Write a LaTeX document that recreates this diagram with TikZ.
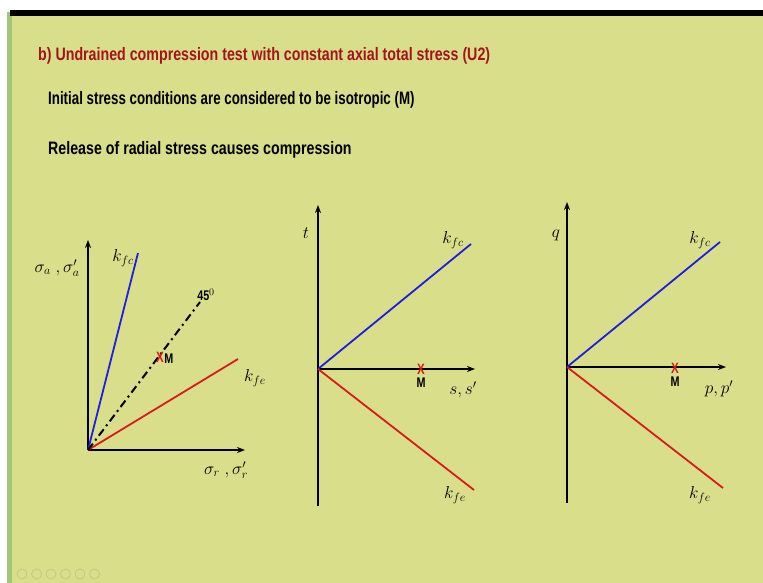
\documentclass[tikz,border=0pt]{standalone}
\usepackage{fontspec}
\setmainfont{Liberation Sans}[FakeStretch=0.77]
\usetikzlibrary{positioning,arrows.meta,calc}
\usepackage{amsmath,amssymb}
\usepackage{xcolor}
\definecolor{slidebg}{RGB}{217,222,138}
\definecolor{slideedge}{RGB}{160,200,120}
\definecolor{titlered}{RGB}{165,20,30}
\definecolor{kfcblue}{RGB}{30,30,225}
\definecolor{kfered}{RGB}{220,25,25}
\definecolor{navgrey}{RGB}{190,195,130}

\begin{document}
\begin{tikzpicture}[
    x=1pt, y=-1pt,
    axis/.style={line width=2pt, -{Stealth[length=8pt,width=6pt]}},
    fcline/.style={kfcblue, line width=1.8pt},
    feline/.style={kfered, line width=1.8pt},
    lbl/.style={inner sep=1pt, font=\fontsize{17}{19}\selectfont},
    slidetext/.style={anchor=base west, inner sep=0pt, font=\bfseries\fontsize{18}{20}\selectfont},
    cross/.style={text=kfered, font=\bfseries\fontsize{15}{16}\selectfont, inner sep=0pt},
    mlbl/.style={font=\bfseries\fontsize{14}{16}\selectfont, inner sep=0pt},
    >=Stealth
  ]
  % slide frame
  \useasboundingbox (0,0) rectangle (763,583);
  \fill[white] (0,0) rectangle (763,583);
  \fill[slidebg] (12,16) rectangle (763,583);
  \fill[slideedge] (7,12) rectangle (12,583);
  \fill[black] (10,10) rectangle (763,16);

  % texts
  \node[slidetext, text=titlered] (title) at (38,61) {\addfontfeature{FakeStretch=0.79}b) Undrained compression test with constant axial total stress (U2)};
  \node[slidetext] (line1) at (48,105) {\addfontfeature{FakeStretch=0.74}Initial stress conditions are considered to be isotropic (M)};
  \node[slidetext] (line2) at (48,155) {\addfontfeature{FakeStretch=0.79}Release of radial stress causes compression};

  % principal stress plane
  \coordinate (o1) at (88,450);
  \coordinate (y1) at (88,240);
  \coordinate (x1) at (245,450);
  \coordinate (c1) at (138,253);
  \coordinate (e1) at (238,359);
  \coordinate (d1) at (200,302);
  \draw[axis] (o1) -- (y1);
  \draw[axis] (o1) -- (x1);
  \draw[fcline] (o1) -- (c1);
  \draw[feline] (o1) -- (e1);
  \draw[line width=2pt, dash pattern=on 8pt off 4pt on 2pt off 4pt] (o1) -- (d1);
  \node[mlbl, anchor=south] (deg) at (206,301) {45$^{0}$};
  \node[lbl] (fc1) at (123,258) {$k_{fc}$};
  \node[lbl] (fe1) at (255,378) {$k_{fe}$};
  \node[lbl] (ya1) at (57,268) {$\sigma_a\;,\sigma'_a$};
  \node[lbl] (xa1) at (226,470) {$\sigma_r\;,\sigma'_r$};
  \node[cross] (m1) at (160,357) {X};
  \node[mlbl, right=0pt of m1, yshift=-2pt] (ml1) {M};

  % s-t plane
  \coordinate (o2) at (318,369);
  \coordinate (y2) at (318,205);
  \coordinate (b2) at (318,506);
  \coordinate (x2) at (475,369);
  \coordinate (c2) at (471,244);
  \coordinate (e2) at (474,490);
  \draw[axis] (b2) -- (y2);
  \draw[axis] (o2) -- (x2);
  \draw[fcline] (o2) -- (c2);
  \draw[feline] (o2) -- (e2);
  \node[lbl] (ta2) at (306,233) {$t$};
  \node[lbl] (fc2) at (453,240) {$k_{fc}$};
  \node[lbl] (fe2) at (455,495) {$k_{fe}$};
  \node[lbl] (xa2) at (463,390) {$s,s'$};
  \node[cross] (m2) at (421,369) {X};
  \node[mlbl, below=3pt of m2] (ml2) {M};

  % p-q plane
  \coordinate (o3) at (567,367);
  \coordinate (y3) at (567,202);
  \coordinate (b3) at (567,503);
  \coordinate (x3) at (726,367);
  \coordinate (c3) at (720,242);
  \coordinate (e3) at (723,488);
  \draw[axis] (b3) -- (y3);
  \draw[axis] (o3) -- (x3);
  \draw[fcline] (o3) -- (c3);
  \draw[feline] (o3) -- (e3);
  \node[lbl] (qa3) at (556,235) {$q$};
  \node[lbl] (fc3) at (700,240) {$k_{fc}$};
  \node[lbl] (fe3) at (700,495) {$k_{fe}$};
  \node[lbl] (xa3) at (719,389) {$p,p'$};
  \node[cross] (m3) at (675,368) {X};
  \node[mlbl, below=3pt of m3] (ml3) {M};

  % navigation icons
  \foreach \i in {0,...,5}
    \draw[navgrey, line width=0.6pt] (22+\i*14.5,574) circle (5);
\end{tikzpicture}
\end{document}
